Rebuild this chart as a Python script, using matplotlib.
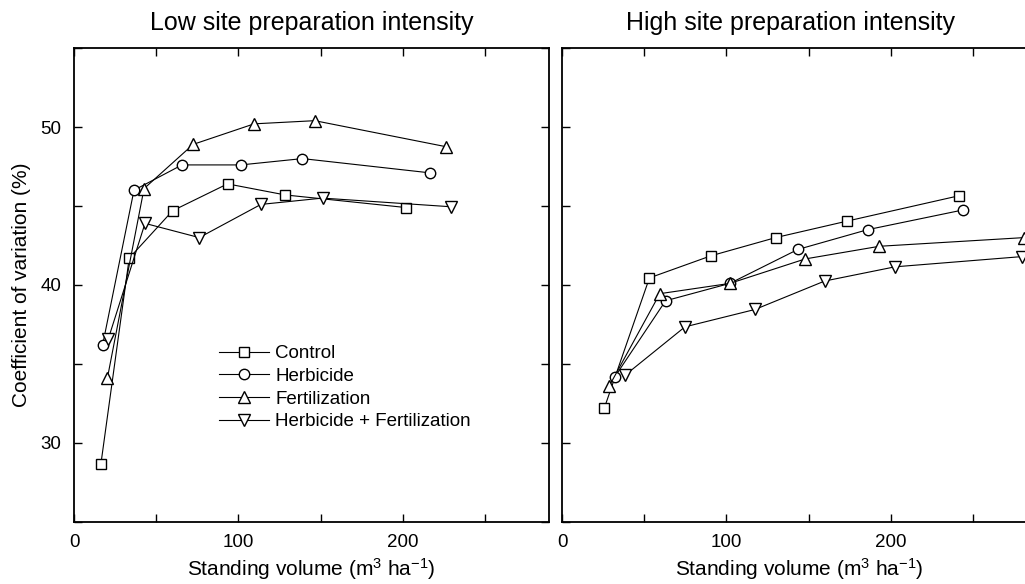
import numpy as np
import matplotlib
matplotlib.use("Agg")
import matplotlib.pyplot as plt
from matplotlib.ticker import MultipleLocator

plt.rcParams['font.family'] = ['Liberation Sans', 'DejaVu Sans']
plt.rcParams['mathtext.fontset'] = 'custom'
plt.rcParams['mathtext.rm'] = 'Liberation Sans'
plt.rcParams['mathtext.it'] = 'Liberation Sans:italic'

# Low site preparation intensity
low_control_x = [16.4, 33.6, 60.0, 93.4, 128.5, 202.2]
low_control_y = [28.7, 41.7, 44.7, 46.4, 45.7, 44.9]
low_herb_x = [17.4, 36.5, 65.7, 101.5, 139.0, 216.4]
low_herb_y = [36.2, 46.0, 47.6, 47.6, 48.0, 47.1]
low_fert_x = [20.3, 42.6, 72.5, 109.6, 146.5, 226.5]
low_fert_y = [34.1, 46.1, 48.9, 50.2, 50.4, 48.75]
low_hf_x = [20.9, 43.2, 76.2, 113.7, 151.2, 229.6]
low_hf_y = [36.6, 43.9, 43.0, 45.1, 45.5, 44.95]

# High site preparation intensity
high_control_x = [25.7, 53.2, 90.7, 130.0, 173.7, 241.6]
high_control_y = [32.2, 40.45, 41.85, 43.0, 44.05, 45.65]
high_herb_x = [32.2, 63.0, 102.1, 143.5, 185.9, 244.0]
high_herb_y = [34.2, 39.0, 40.1, 42.25, 43.5, 44.75]
high_fert_x = [28.7, 59.5, 102.1, 148.0, 193.1, 281.2]
high_fert_y = [33.6, 39.45, 40.1, 41.65, 42.45, 43.0]
high_hf_x = [38.5, 74.8, 117.4, 159.8, 202.6, 280.1]
high_hf_y = [34.3, 37.35, 38.45, 40.25, 41.15, 41.8]

labels = ['Control', 'Herbicide', 'Fertilization', 'Herbicide + Fertilization']
markers = ['s', 'o', '^', 'v']
msizes = [6.5, 7.5, 8.5, 8.5]

fig = plt.figure(figsize=(10.25, 5.84), dpi=100)
ax1 = fig.add_axes([0.0722, 0.1062, 0.4634, 0.8116])
ax2 = fig.add_axes([0.5483, 0.1062, 0.4634, 0.8116])

low = [(low_control_x, low_control_y), (low_herb_x, low_herb_y),
       (low_fert_x, low_fert_y), (low_hf_x, low_hf_y)]
high = [(high_control_x, high_control_y), (high_herb_x, high_herb_y),
        (high_fert_x, high_fert_y), (high_hf_x, high_hf_y)]

for ax, data in [(ax1, low), (ax2, high)]:
    for (x, y), lab, m, ms in zip(data, labels, markers, msizes):
        ax.plot(x, y, color='black', lw=0.8, marker=m, ms=ms,
                mfc='white', mec='black', mew=1.0, label=lab)
    ax.set_xlim(0, 289)
    ax.set_ylim(25, 55)
    ax.xaxis.set_major_locator(MultipleLocator(100))
    ax.xaxis.set_minor_locator(MultipleLocator(50))
    ax.yaxis.set_major_locator(MultipleLocator(10))
    ax.yaxis.set_minor_locator(MultipleLocator(5))
    ax.tick_params(which='both', direction='in', top=True, right=True,
                   length=6, width=1.0, labelsize=13.5, pad=9)
    for s in ax.spines.values():
        s.set_linewidth(1.3)
    ax.set_xlabel(r'Standing volume (m$^{3}$ ha$^{-1}$)', fontsize=15, labelpad=3)

ax1.set_title('Low site preparation intensity', fontsize=18, pad=13)
ax2.set_title('High site preparation intensity', fontsize=18, pad=13, x=0.48)
ax1.set_ylabel('Coefficient of variation (%)', fontsize=15, labelpad=7)
ax2.tick_params(axis='y', labelleft=False)

ax1.legend(loc='upper left', bbox_to_anchor=(0.285, 0.393), frameon=False,
           fontsize=13.5, handlelength=2.7, handletextpad=0.3,
           labelspacing=0.3, borderpad=0, numpoints=1)

fig.savefig('out.png', dpi=100)
